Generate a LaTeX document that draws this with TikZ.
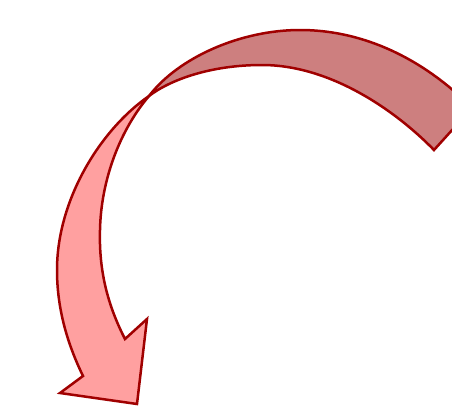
\documentclass[tikz,border=0pt]{standalone}
\definecolor{edgered}{RGB}{160,0,0}
\definecolor{backfill}{RGB}{205,127,127}
\definecolor{frontfill}{RGB}{255,160,160}
\begin{document}
\begin{tikzpicture}[x=1pt,y=-1pt,
  ribbon/.style={draw=edgered,line width=2.5pt,line join=miter},
  backpart/.style={ribbon,fill=backfill},
  frontpart/.style={ribbon,fill=frontfill}]
\useasboundingbox (0,0) rectangle (452,407);
\clip (0,0) rectangle (452,407);
\coordinate (X) at (149,96);
% back (far) side of the ribbon
\draw[backpart] (X) .. controls (178,58) and (240,30) .. (300,30)
  .. controls (370,30) and (430,65) .. (472,108)
  -- (434,150)
  .. controls (395,110) and (330,65) .. (262,65)
  .. controls (210,65) and (170,80) .. (X)
  -- cycle;
% front side with the arrow head
\draw[frontpart] (X) .. controls (100,130) and (57,200) .. (57,270)
  .. controls (57,310) and (68,345) .. (83,376)
  -- (60,393) -- (137,404) -- (147,319) -- (125,339)
  .. controls (105,300) and (99,265) .. (100,230)
  .. controls (101,180) and (120,130) .. (X)
  -- cycle;
\end{tikzpicture}
\end{document}
